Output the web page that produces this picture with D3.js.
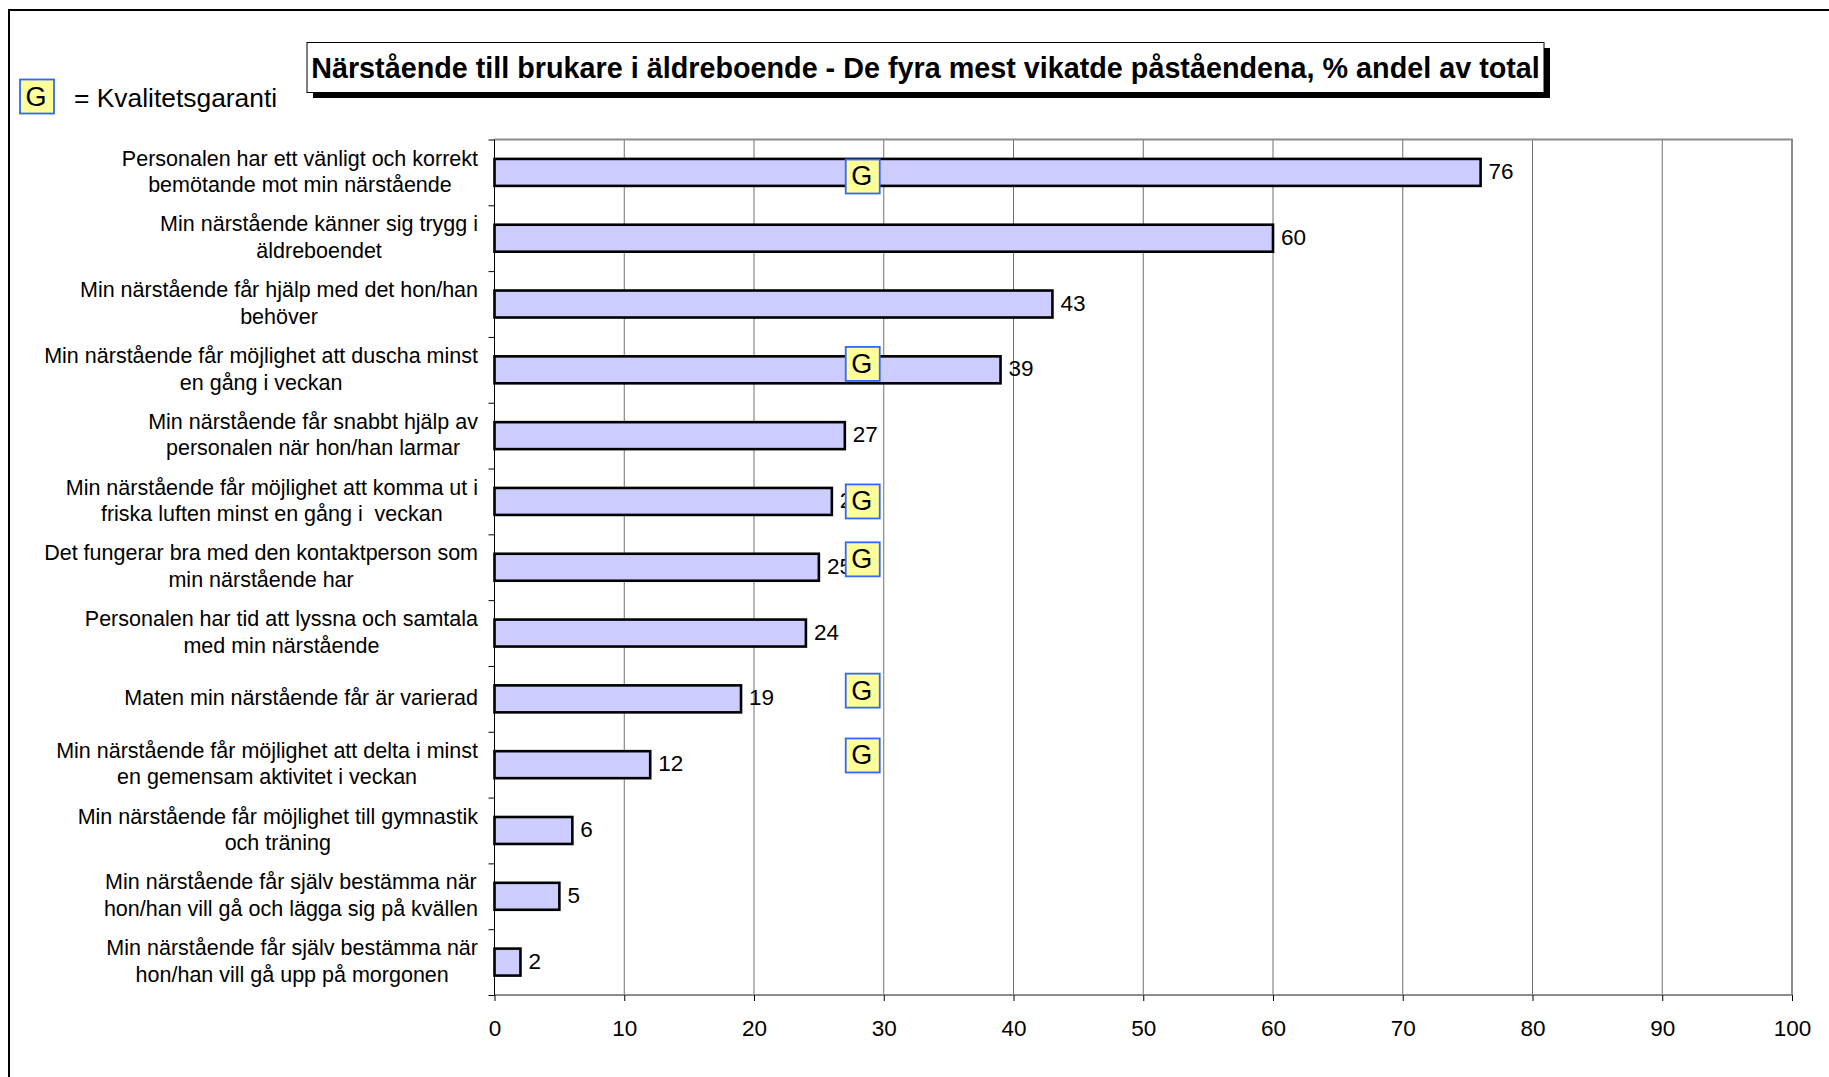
<!DOCTYPE html>
<html><head><meta charset="utf-8">
<script src="https://cdn.jsdelivr.net/npm/d3@7"></script>
<style>
html,body{margin:0;padding:0;background:#fff}
svg{display:block}
text{font-family:"Liberation Sans",Arial,sans-serif;fill:#000;white-space:pre}
</style></head><body>
<svg id="c" width="1829" height="1077"></svg>
<script>
const categories = [
 ["Personalen har ett vänligt och korrekt","bemötande mot min närstående"],
 ["Min närstående känner sig trygg i","äldreboendet"],
 ["Min närstående får hjälp med det hon/han","behöver"],
 ["Min närstående får möjlighet att duscha minst","en gång i veckan"],
 ["Min närstående får snabbt hjälp av","personalen när hon/han larmar"],
 ["Min närstående får möjlighet att komma ut i","friska luften minst en gång i  veckan"],
 ["Det fungerar bra med den kontaktperson som","min närstående har"],
 ["Personalen har tid att lyssna och samtala","med min närstående"],
 ["Maten min närstående får är varierad"],
 ["Min närstående får möjlighet att delta i minst","en gemensam aktivitet i veckan"],
 ["Min närstående får möjlighet till gymnastik","och träning"],
 ["Min närstående får själv bestämma när","hon/han vill gå och lägga sig på kvällen"],
 ["Min närstående får själv bestämma när","hon/han vill gå upp på morgonen"]
];
const values = [76,60,43,39,27,26,25,24,19,12,6,5,2];
const xTicks = [0,10,20,30,40,50,60,70,80,90,100];
const gRows = [0.562,3.41,5.5,6.38,8.375,9.36];
const gValue = 28.38;
const titleText = "Närstående till brukare i äldreboende - De fyra mest vikatde påståendena, % andel av total";
const legendText = "= Kvalitetsgaranti";

const L=494.5,R=1792,T=139.5,B=995;
const svg=d3.select("#c");
const x=d3.scaleLinear().domain([0,100]).range([L,R]);
const y=d3.scaleBand().domain(d3.range(categories.length)).range([T,B]).padding(0.59).paddingOuter(0.295);
const rowPos=d3.scaleLinear().domain([0,categories.length]).range([T,B]);

// outer frame
svg.append("rect").attr("x",9).attr("y",10).attr("width",1900).attr("height",1200)
  .attr("fill","#fff").attr("stroke","#000").attr("stroke-width",2);

// gridlines
svg.append("g").selectAll("line").data(xTicks.slice(1,-1)).join("line")
  .attr("x1",d=>x(d)).attr("x2",d=>x(d)).attr("y1",T).attr("y2",B)
  .attr("stroke","#707070").attr("stroke-width",1);
// plot border top/right/bottom
svg.append("path").attr("d",`M${L},${T}H${R}V${B}H${L}`).attr("fill","none")
  .attr("stroke","#8c8c8c").attr("stroke-width",2);

// axes
const ax=svg.append("g").attr("transform",`translate(0,${B})`)
  .call(d3.axisBottom(x).tickValues(xTicks).tickSize(6).tickSizeOuter(0).tickPadding(19));
ax.select(".domain").remove();
ax.selectAll("line").attr("stroke","#000");
ax.selectAll("text").attr("font-size",22.5).attr("fill","#000");

const rowEdges=d3.range(categories.length+1);
const ay=svg.append("g").attr("transform",`translate(${L},0)`)
  .call(d3.axisLeft(rowPos).tickValues(rowEdges).tickSize(6).tickFormat(""));
ay.select(".domain").attr("stroke","#000").attr("d",`M0,${T}V${B}`);
ay.selectAll("line").attr("stroke","#000");

// category labels
const LABEL_RIGHT=478, LH=26.6;
const lg=svg.append("g").attr("font-size",21.5);
categories.forEach((lines,i)=>{
  const cy=y(i)+y.bandwidth()/2;
  const g=lg.append("g");
  const ts=g.selectAll("text").data(lines).join("text")
    .attr("text-anchor","middle").attr("dominant-baseline","central")
    .attr("y",(d,k)=>cy-0.5+(k-(lines.length-1)/2)*LH).text(d=>d);
  const w=d3.max(ts.nodes(),n=>n.getComputedTextLength());
  ts.attr("x",LABEL_RIGHT-w/2);
});

// bars
svg.append("g").selectAll("rect").data(values).join("rect")
  .attr("x",x(0)).attr("y",(d,i)=>y(i)).attr("width",d=>x(d)-x(0)).attr("height",y.bandwidth())
  .attr("fill","#ccccff").attr("stroke","#000").attr("stroke-width",2.6);

// value labels
svg.append("g").selectAll("text").data(values).join("text")
  .attr("x",d=>x(d)+8).attr("y",(d,i)=>y(i)+y.bandwidth()/2-1).attr("dominant-baseline","central")
  .attr("font-size",22.5).text(d=>d);

// G markers
function gBox(cx,cy){
  const g=svg.append("g");
  g.append("rect").attr("x",cx-17).attr("y",cy-17).attr("width",34).attr("height",34)
    .attr("fill","#ffff99").attr("stroke","#3366ff").attr("stroke-width",1.8);
  g.append("text").attr("x",cx-1).attr("y",cy).attr("text-anchor","middle")
    .attr("dominant-baseline","central").attr("font-size",27).text("G");
}
gRows.forEach(r=>gBox(x(gValue),rowPos(r)));
gBox(37,96.5);
svg.append("text").attr("x",74).attr("y",98).attr("dominant-baseline","central").attr("font-size",26.4).text(legendText);

// title
svg.append("rect").attr("x",313).attr("y",48).attr("width",1237).attr("height",50).attr("fill","#000");
svg.append("rect").attr("x",307).attr("y",42.5).attr("width",1237).attr("height",50)
  .attr("fill","#fff").attr("stroke","#000").attr("stroke-width",1);
svg.append("text").attr("x",925.5).attr("y",68).attr("text-anchor","middle").attr("dominant-baseline","central")
  .attr("font-size",28.75).attr("font-weight","bold").text(titleText);
</script>
</body></html>
